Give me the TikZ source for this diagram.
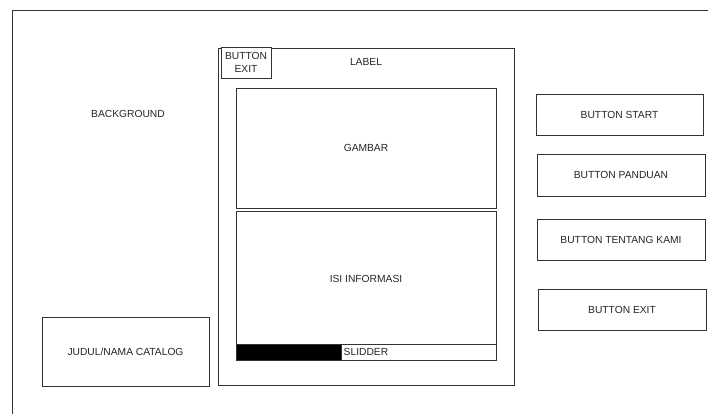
\documentclass[tikz,border=0pt]{standalone}
\usepackage{fontspec}
\setmainfont{Liberation Sans}
\begin{document}
\begin{tikzpicture}[x=1bp,y=-1bp,
  every node/.style={font=\fontsize{10.3}{11}\selectfont, text=black!85},
  box/.style={draw=black!80, line width=0.9bp, fill=white, rectangle, inner sep=0pt},
  txt/.style={inner sep=0pt}]
\useasboundingbox (0,0) rectangle (708,414);
% outer frame (cropped)
\coordinate (fbl) at (12,414);
\coordinate (ftl) at (12,10);
\coordinate (ftr) at (708,10);
\draw[draw=black!80, line width=0.9bp] (fbl) -- (ftl) -- (ftr);
\node[txt] (bg) at (128,114) {BACKGROUND};
% main panel
\node[box, minimum width=296bp, minimum height=337bp] (panel) at (366,216.5) {};
\node[box, minimum width=50bp, minimum height=31bp, align=center, font=\fontsize{10.3}{12.5}\selectfont] (bexit) at (246,62.5) {BUTTON\\EXIT};
\node[txt] (label) at (366,62) {LABEL};
\node[box, minimum width=260bp, minimum height=120bp] (gambar) at (366,148) {GAMBAR};
\node[box, minimum width=260bp, minimum height=149bp] (isi) at (366,285.5) {};
\node[txt] (isitext) at (366,279) {ISI INFORMASI};
\node[box, minimum width=260bp, minimum height=16bp] (slider) at (366,352) {};
\node[box, fill=black, minimum width=105bp, minimum height=16bp] (knob) at (288.5,352) {};
\node[txt, anchor=west] (slidtext) at (343.5,352) {SLIDDER};
% left title
\node[box, minimum width=167bp, minimum height=69bp] (judul) at (125.5,351.5) {JUDUL/NAMA CATALOG};
% right buttons
\node[box, minimum width=167bp, minimum height=41bp] (bstart) at (619.5,114.5) {BUTTON START};
\node[box, minimum width=168bp, minimum height=42bp] (bpand) at (621,175) {BUTTON PANDUAN};
\node[box, minimum width=168bp, minimum height=41bp] (btent) at (621,239.5) {BUTTON TENTANG KAMI};
\node[box, minimum width=168bp, minimum height=41bp] (bexit2) at (622,309.5) {BUTTON EXIT};
\end{tikzpicture}
\end{document}
